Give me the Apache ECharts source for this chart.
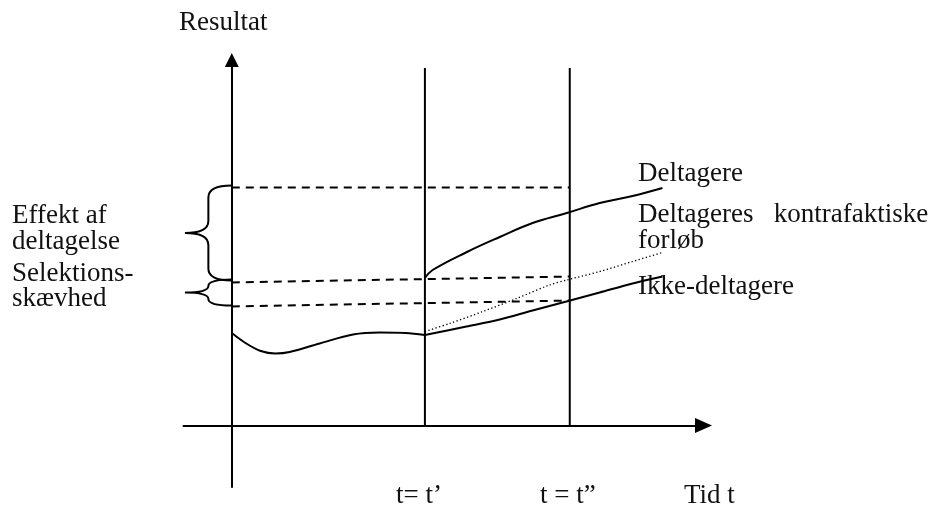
<!DOCTYPE html>
<html>
<head>
<meta charset="utf-8">
<script src="https://cdn.jsdelivr.net/npm/echarts@6/dist/echarts.min.js"></script>
<style>
  html, body { margin: 0; padding: 0; background: #fff; }
  #chart { width: 936px; height: 513px; }
</style>
</head>
<body>
<div id="chart"></div>
<script>
// ---- data (time units on x, result level on y) ----
const eventTimes = [4, 7];                 // t = t', t = t''
const eventTop = 35.75;

const beforeX = [0, 0.3, 0.6, 0.9, 1.2, 1.82, 2.51, 3.06, 3.6, 4.0];
const beforeY = [9.25, 8.2, 7.45, 7.2, 7.35, 8.2, 9.1, 9.3, 9.25, 9.05];

const deltagereX = [4.0, 4.16, 4.87, 5.55, 6.23, 6.94, 7.62, 8.3, 8.92];
const deltagereY = [14.75, 15.55, 17.35, 18.85, 20.25, 21.25, 22.25, 22.95, 23.75];

const ikkeX = [4.0, 4.86, 5.55, 6.23, 6.93, 7.62, 8.3, 8.92];
const ikkeY = [9.05, 9.9, 10.6, 11.5, 12.4, 13.3, 14.2, 14.9];

const kontraX = [4.0, 4.51, 5.2, 5.9, 6.58, 6.94, 7.62, 8.3, 8.92];
const kontraY = [9.4, 10.2, 11.4, 12.7, 14.05, 14.55, 15.4, 16.4, 17.3];

const dashedStartY = [23.8, 14.3, 11.9];
const dashedEndY = [23.8, 14.9, 12.5];
const dashedX = [0, 7];

const braceTop = [24.0, 14.6];
const braceBottom = [14.5, 12.0];
const braceTipX = -0.97;

const yAxisTitle = 'Resultat';
const xAxisTitle = 'Tid t';
const eventLabels = ['t= t\u2019', 't = t\u201D'];
const braceLabels = [['Effekt af', 'deltagelse'], ['Selektions-', 'skævhed']];
const seriesLabels = ['Deltagere', 'Deltageres   kontrafaktiske', 'forløb', 'Ikke-deltagere'];

// ---- build ----
const zip = (xs, ys) => xs.map((x, i) => [x, ys[i]]);
const black = '#000';
const FONT = '27px "Liberation Serif", "DejaVu Serif", serif';

const series = [];

eventTimes.forEach(t => {
  series.push({
    type: 'line', data: [[t, 0], [t, eventTop]], symbol: 'none', silent: true,
    lineStyle: { color: black, width: 2 }
  });
});

dashedStartY.forEach((y0, i) => {
  series.push({
    type: 'line', data: [[dashedX[0], y0], [dashedX[1], dashedEndY[i]]], symbol: 'none', silent: true,
    lineStyle: { color: black, width: 2, type: [8, 6] }
  });
});

series.push({
  type: 'line', data: zip(beforeX, beforeY), symbol: 'none', smooth: 0.35, silent: true,
  lineStyle: { color: black, width: 2 }
});
series.push({
  type: 'line', data: zip(deltagereX, deltagereY), symbol: 'none', smooth: 0.4, silent: true,
  lineStyle: { color: black, width: 2 }
});
series.push({
  type: 'line', data: zip(ikkeX, ikkeY), symbol: 'none', smooth: 0.3, silent: true,
  lineStyle: { color: black, width: 2 }
});
series.push({
  type: 'line', data: zip(kontraX, kontraY), symbol: 'none', smooth: 0.3, silent: true,
  lineStyle: { color: black, width: 1.3, type: [1.3, 2.4] }
});

series.push({
  type: 'custom', silent: true,
  data: braceTop.map((t, i) => [0, t, braceBottom[i], braceTipX]),
  renderItem: function (params, api) {
    const p1 = api.coord([api.value(0), api.value(1)]);
    const p2 = api.coord([api.value(0), api.value(2)]);
    const midY = (p1[1] + p2[1]) / 2;
    const tip = api.coord([api.value(3), 0]);
    const tx = tip[0];
    const sx = (p1[0] + tx) / 2;
    const h = p2[1] - p1[1];
    const r = Math.min(12, h / 4);
    const d = [
      'M', p1[0], p1[1],
      'Q', sx, p1[1], sx, p1[1] + r,
      'L', sx, midY - r,
      'Q', sx, midY, tx, midY,
      'Q', sx, midY, sx, midY + r,
      'L', sx, p2[1] - r,
      'Q', sx, p2[1], p1[0], p2[1]
    ].join(' ');
    return {
      type: 'path',
      shape: { pathData: d },
      style: { fill: 'none', stroke: black, lineWidth: 2 }
    };
  }
});

function txt(x, y, text) {
  return {
    type: 'text', x: x, y: y, silent: true,
    style: { text: text, font: FONT, fill: '#111', verticalAlign: 'middle', align: 'left' }
  };
}

const graphics = [
  txt(179, 23, yAxisTitle),
  txt(12, 216, braceLabels[0][0]),
  txt(12, 242, braceLabels[0][1]),
  txt(12, 274, braceLabels[1][0]),
  txt(12, 299, braceLabels[1][1]),
  txt(638, 174, seriesLabels[0]),
  txt(638, 215, seriesLabels[1]),
  txt(638, 241, seriesLabels[2]),
  txt(638, 287, seriesLabels[3]),
  txt(396, 496, eventLabels[0]),
  txt(540, 496, eventLabels[1]),
  txt(684, 496, xAxisTitle)
];

const chart = echarts.init(document.getElementById('chart'), null, { renderer: 'canvas' });
chart.setOption({
  animation: false,
  backgroundColor: '#fff',
  grid: { left: 183.5, width: 520, top: 60, bottom: 26, containLabel: false },
  xAxis: {
    type: 'value', min: -1, max: 9.77,
    axisLine: { show: true, onZero: true, symbol: ['none', 'triangle'], symbolSize: [15, 17],
      lineStyle: { color: black, width: 2 } },
    axisTick: { show: false }, axisLabel: { show: false }, splitLine: { show: false }
  },
  yAxis: {
    type: 'value', min: -6.15, max: 36.55,
    axisLine: { show: true, onZero: true, symbol: ['none', 'triangle'], symbolSize: [14, 14],
      lineStyle: { color: black, width: 2 } },
    axisTick: { show: false }, axisLabel: { show: false }, splitLine: { show: false }
  },
  series: series,
  graphic: graphics
});
</script>
</body>
</html>
